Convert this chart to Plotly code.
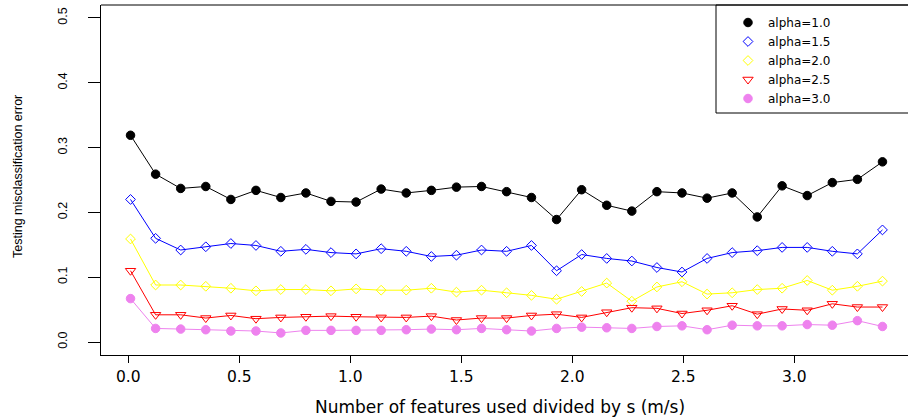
import plotly.graph_objects as go

# Number of features used divided by s (m/s)
ratio = [0.010, 0.123, 0.236, 0.349, 0.462, 0.575, 0.687, 0.800, 0.913, 1.026,
         1.139, 1.252, 1.365, 1.478, 1.591, 1.704, 1.816, 1.929, 2.042, 2.155,
         2.268, 2.381, 2.494, 2.607, 2.720, 2.833, 2.945, 3.058, 3.171, 3.284,
         3.397]

# Testing misclassification error for each alpha
err_a10 = [0.319, 0.259, 0.237, 0.240, 0.220, 0.234, 0.223, 0.230, 0.217, 0.216,
           0.236, 0.230, 0.234, 0.239, 0.240, 0.232, 0.223, 0.189, 0.235, 0.211,
           0.202, 0.232, 0.230, 0.222, 0.230, 0.193, 0.241, 0.226, 0.246, 0.251,
           0.278]
err_a15 = [0.220, 0.160, 0.142, 0.147, 0.152, 0.149, 0.140, 0.143, 0.138, 0.136,
           0.144, 0.140, 0.132, 0.134, 0.142, 0.140, 0.149, 0.110, 0.135, 0.129,
           0.125, 0.115, 0.108, 0.129, 0.138, 0.141, 0.146, 0.146, 0.140, 0.136,
           0.173]
err_a20 = [0.159, 0.088, 0.088, 0.086, 0.083, 0.079, 0.081, 0.081, 0.079, 0.082,
           0.080, 0.080, 0.083, 0.077, 0.080, 0.076, 0.072, 0.066, 0.078, 0.091,
           0.063, 0.085, 0.093, 0.074, 0.076, 0.081, 0.083, 0.095, 0.080, 0.086,
           0.094]
err_a25 = [0.110, 0.042, 0.042, 0.037, 0.041, 0.036, 0.038, 0.039, 0.040, 0.039,
           0.038, 0.038, 0.040, 0.034, 0.037, 0.037, 0.041, 0.043, 0.038, 0.046,
           0.053, 0.052, 0.044, 0.049, 0.056, 0.043, 0.051, 0.049, 0.059, 0.054,
           0.054]
err_a30 = [0.067, 0.021, 0.020, 0.019, 0.017, 0.017, 0.014, 0.018, 0.018, 0.018,
           0.018, 0.019, 0.020, 0.019, 0.021, 0.019, 0.017, 0.021, 0.023, 0.022,
           0.021, 0.024, 0.025, 0.019, 0.026, 0.025, 0.025, 0.027, 0.026, 0.033,
           0.024]

labels = ["alpha=1.0", "alpha=1.5", "alpha=2.0", "alpha=2.5", "alpha=3.0"]
series = [err_a10, err_a15, err_a20, err_a25, err_a30]
colors = ["#000000", "#0000FF", "#FFFF00", "#FF0000", "#EE82EE"]
symbols = ["circle", "diamond-open", "diamond-open", "triangle-down-open", "circle"]
sizes = [8.5, 7.5, 7.5, 9, 8.5]

x_ticks = [0.0, 0.5, 1.0, 1.5, 2.0, 2.5, 3.0]
x_tick_text = ["0.0", "0.5", "1.0", "1.5", "2.0", "2.5", "3.0"]
y_ticks = [0.0, 0.1, 0.2, 0.3, 0.4, 0.5]
y_tick_text = ["0.0", "0.1", "0.2", "0.3", "0.4", "0.5"]

H_FONT = "DejaVu Sans"
V_FONT = "Liberation Sans, Arial"

fig = go.Figure()

for name, ys, col, sym, sz in zip(labels, series, colors, symbols, sizes):
    fig.add_trace(go.Scatter(
        x=ratio, y=ys, mode="lines+markers", name=name, showlegend=False,
        line=dict(color=col, width=1),
        marker=dict(symbol=sym, size=sz, color=col, line=dict(color=col, width=1)),
        hoverinfo="x+y+name",
    ))

# marker-only legend keys
for name, col, sym, sz in zip(labels, colors, symbols, sizes):
    fig.add_trace(go.Scatter(
        x=[None], y=[None], mode="markers", name=name,
        marker=dict(symbol=sym, size=sz, color=col, line=dict(color=col, width=1)),
    ))

W, H = 908, 420
ML, MR, MT, MB = 101, 0, 5, 65
pw = W - ML - MR
ph = H - MT - MB


def px_x(p):
    return (p - ML) / pw


def px_y(p):
    return (H - MB - p) / ph


fig.update_layout(
    width=W, height=H,
    margin=dict(l=ML, r=MR, t=MT, b=MB, pad=0),
    paper_bgcolor="white", plot_bgcolor="white",
    showlegend=True,
    legend=dict(
        x=px_x(728), y=px_y(8), xanchor="left", yanchor="top",
        bgcolor="rgba(0,0,0,0)", borderwidth=0,
        font=dict(family=H_FONT, size=12, color="black"),
        itemclick=False, itemdoubleclick=False,
    ),
    xaxis=dict(
        range=[-0.123, 3.512], showgrid=False, zeroline=False,
        showline=True, linecolor="black", linewidth=1, mirror=False,
        ticks="outside", ticklen=7, tickwidth=1, tickcolor="black",
        tickvals=x_ticks, ticktext=x_tick_text,
        tickfont=dict(family=H_FONT, size=15.5, color="black"),
        ticklabelstandoff=0,
    ),
    yaxis=dict(
        range=[-0.02, 0.52], showgrid=False, zeroline=False,
        showline=True, linecolor="black", linewidth=1, mirror=False,
        ticks="outside", ticklen=12, tickwidth=1, tickcolor="black",
        tickvals=y_ticks, ticktext=y_tick_text, tickangle=-90,
        tickfont=dict(family=V_FONT, size=12.5, color="black"),
        ticklabelstandoff=16,
    ),
    shapes=[
        # top edge of the plotting box
        dict(type="line", xref="paper", yref="paper", x0=0, x1=1, y0=1, y1=1,
             line=dict(color="black", width=1)),
        # legend frame
        dict(type="rect", xref="paper", yref="paper",
             x0=px_x(716), x1=1.05, y0=px_y(113), y1=1.0,
             line=dict(color="black", width=1), fillcolor="rgba(0,0,0,0)",
             layer="above"),
    ],
    annotations=[
        dict(text="Number of features used divided by s (m/s)",
             xref="paper", yref="paper", x=px_x(500), y=px_y(407),
             xanchor="center", yanchor="middle", showarrow=False,
             font=dict(family=H_FONT, size=17, color="black")),
        dict(text="Testing misclassification error",
             xref="paper", yref="paper", x=px_x(18), y=px_y(177),
             xanchor="center", yanchor="middle", showarrow=False, textangle=-90,
             font=dict(family=V_FONT, size=12.5, color="black")),
    ],
)

fig.write_html("out.html")
